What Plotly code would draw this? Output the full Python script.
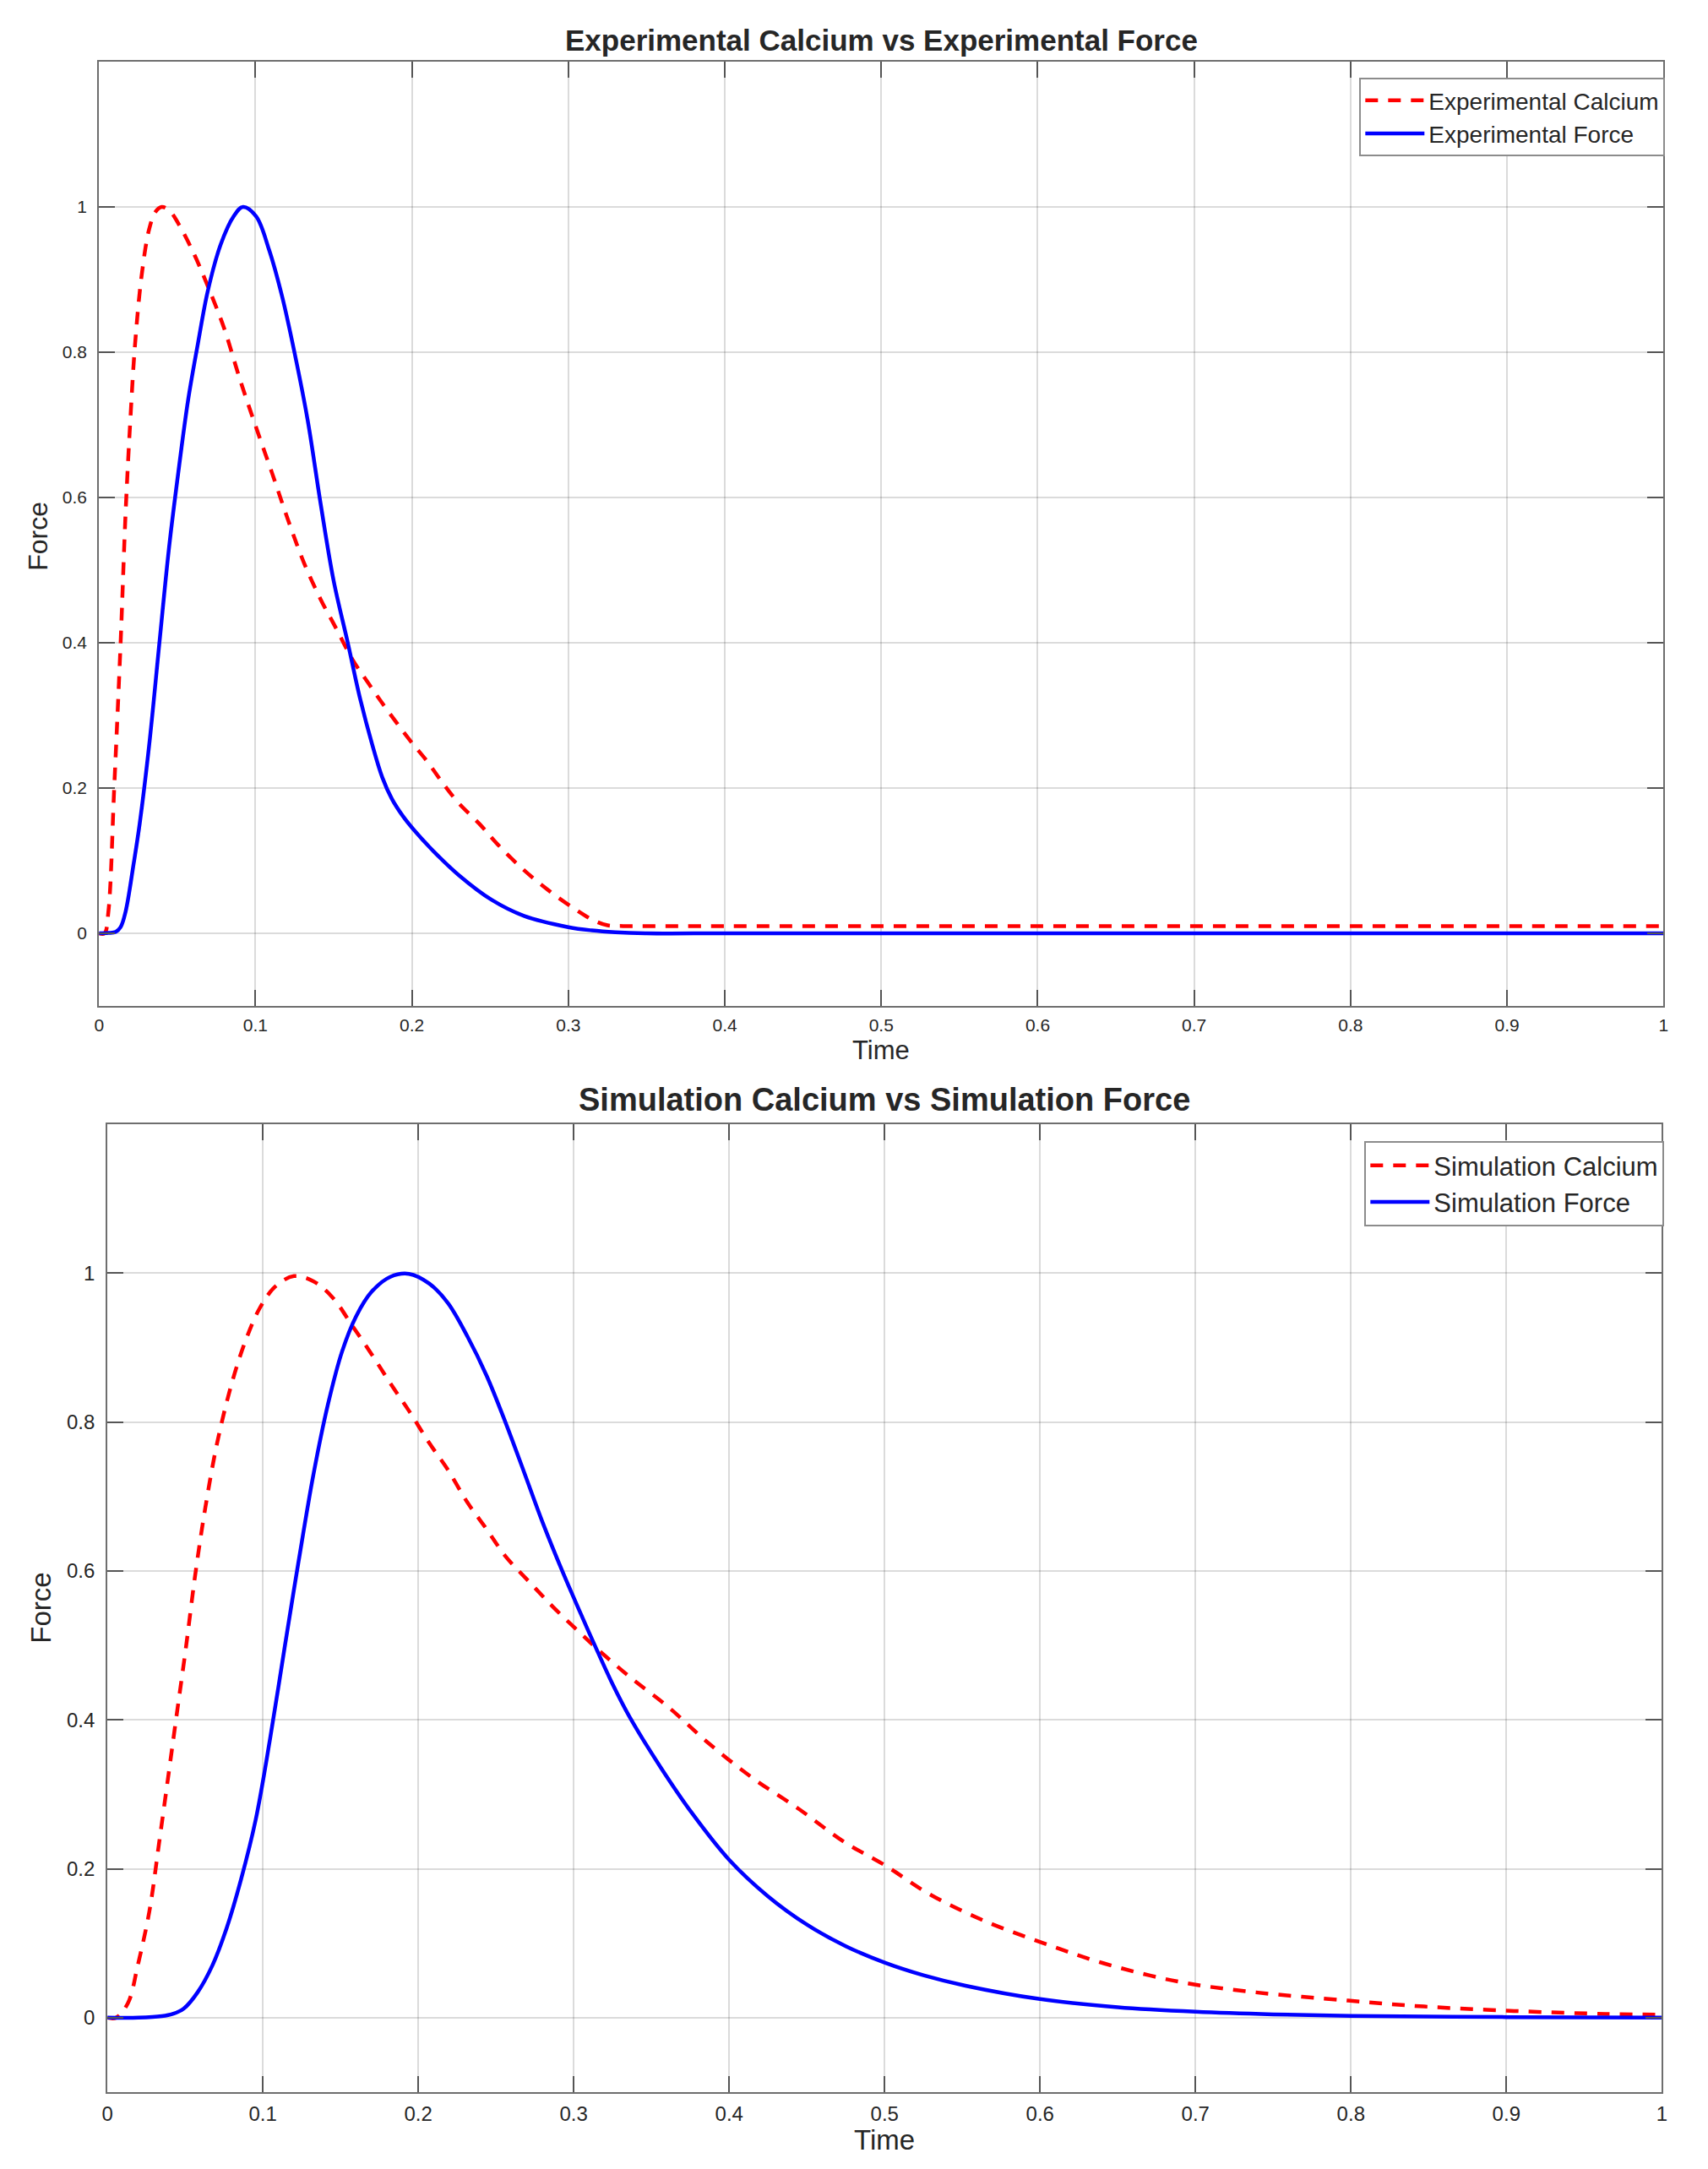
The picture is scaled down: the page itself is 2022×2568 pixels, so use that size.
import plotly.graph_objects as go

# ---------------- data ----------------
exp_ca_t = [0, 0.0035, 0.006, 0.0097, 0.0138, 0.017, 0.020, 0.023, 0.0272, 0.032, 0.036,
            0.040, 0.045, 0.051, 0.061, 0.0695, 0.0798, 0.090, 0.100, 0.1107, 0.121,
            0.131, 0.1416, 0.152, 0.162, 0.1726, 0.183, 0.199, 0.21, 0.22, 0.23, 0.243,
            0.255, 0.2716, 0.288, 0.3045, 0.316, 0.325, 0.335, 0.35, 0.4, 0.5, 0.6, 0.7,
            0.8, 0.9, 1.0]
exp_ca_v = [0, 0.0, 0.03, 0.2, 0.4, 0.58, 0.706, 0.81, 0.905, 0.969, 0.993,
            1.0, 0.995, 0.976, 0.934, 0.891, 0.834, 0.763, 0.699, 0.633, 0.568,
            0.51, 0.46, 0.418, 0.377, 0.343, 0.311, 0.265, 0.236, 0.206, 0.179, 0.151,
            0.122, 0.087, 0.058, 0.033, 0.018, 0.011, 0.01, 0.01, 0.01, 0.01, 0.01, 0.01,
            0.01, 0.01, 0.01]

exp_f_t = [0, 0.006, 0.0107, 0.0138, 0.017, 0.022, 0.026, 0.032, 0.0386, 0.0447, 0.051,
           0.057, 0.0633, 0.0695, 0.0777, 0.086, 0.092, 0.1004, 0.1087, 0.117, 0.125,
           0.1334, 0.1416, 0.150, 0.159, 0.167, 0.1746, 0.181, 0.1872, 0.194, 0.201,
           0.2138, 0.230, 0.251, 0.2716, 0.300, 0.315, 0.33, 0.35, 0.4, 0.5, 0.6, 0.7,
           0.8, 0.9, 1.0]
exp_f_v = [0, 0.0005, 0.002, 0.0085, 0.03, 0.094, 0.151, 0.258, 0.4, 0.53, 0.64,
           0.735, 0.813, 0.884, 0.948, 0.987, 1.0, 0.987, 0.941, 0.877, 0.799,
           0.706, 0.592, 0.485, 0.40, 0.322, 0.26, 0.215, 0.185, 0.162, 0.143,
           0.113, 0.08, 0.046, 0.024, 0.0085, 0.004, 0.0015, 0.0, 0, 0, 0, 0,
           0, 0, 0]

sim_ca_t = [0, 0.0056, 0.0133, 0.0195, 0.027, 0.0334, 0.0396, 0.0443, 0.0505, 0.0567,
            0.063, 0.0706, 0.080, 0.089, 0.098, 0.108, 0.120, 0.1325, 0.145, 0.157,
            0.170, 0.182, 0.194, 0.207, 0.219, 0.2316, 0.244, 0.256, 0.272, 0.287,
            0.303, 0.318, 0.337, 0.361, 0.386, 0.415, 0.445, 0.474, 0.5, 0.528, 0.562,
            0.601, 0.641, 0.69, 0.739, 0.798, 0.847, 0.905, 0.964, 1.0]
sim_ca_v = [0, 0, 0.02, 0.07, 0.143, 0.237, 0.331, 0.403, 0.497, 0.598,
            0.685, 0.772, 0.852, 0.91, 0.953, 0.982, 0.996, 0.989, 0.967, 0.931,
            0.891, 0.852, 0.815, 0.772, 0.736, 0.692, 0.656, 0.62, 0.584, 0.551,
            0.519, 0.49, 0.456, 0.417, 0.37, 0.322, 0.28, 0.236, 0.205, 0.167, 0.132,
            0.101, 0.073, 0.048, 0.034, 0.023, 0.015, 0.009, 0.005, 0.004]

sim_f_t = [0, 0.02, 0.035, 0.042, 0.049, 0.058, 0.0675, 0.0768, 0.086, 0.0954, 0.1046,
           0.114, 0.123, 0.1325, 0.1418, 0.151, 0.160, 0.170, 0.182, 0.194, 0.207,
           0.219, 0.2316, 0.244, 0.256, 0.268, 0.28, 0.293, 0.304, 0.314, 0.325,
           0.337, 0.356, 0.376, 0.4, 0.425, 0.45, 0.475, 0.5, 0.525, 0.552, 0.6, 0.65,
           0.7, 0.75, 0.8, 0.9, 1.0]
sim_f_v = [0, 0, 0.002, 0.005, 0.012, 0.034, 0.07, 0.121, 0.186, 0.266, 0.374,
           0.497, 0.613, 0.729, 0.823, 0.895, 0.942, 0.975, 0.995, 0.999, 0.986,
           0.96, 0.915, 0.862, 0.8, 0.733, 0.665, 0.598, 0.545, 0.498, 0.448,
           0.4, 0.336, 0.275, 0.212, 0.163, 0.125, 0.096, 0.074, 0.057, 0.043, 0.025,
           0.014, 0.008, 0.0045, 0.0025, 0.0008, 0.0002]

x_ticks = [0, 0.1, 0.2, 0.3, 0.4, 0.5, 0.6, 0.7, 0.8, 0.9, 1]
x_tick_labels = ["0", "0.1", "0.2", "0.3", "0.4", "0.5", "0.6", "0.7", "0.8", "0.9", "1"]
y_ticks = [0, 0.2, 0.4, 0.6, 0.8, 1]
y_tick_labels = ["0", "0.2", "0.4", "0.6", "0.8", "1"]

titles = ["Experimental Calcium vs Experimental Force", "Simulation Calcium vs Simulation Force"]
names_top = ["Experimental Calcium", "Experimental Force"]
names_bot = ["Simulation Calcium", "Simulation Force"]

# ---------------- figure ----------------
W, H = 2022, 2568
FONT = "Liberation Sans, Arial, Helvetica, sans-serif"
TXT = "#262626"
RED = "#ff0000"
BLUE = "#0000ff"

fig = go.Figure()

line_kw = dict(shape="spline", smoothing=1.0)
fig.add_trace(go.Scatter(x=exp_ca_t, y=exp_ca_v, mode="lines", name=names_top[0],
                         line=dict(color=RED, width=4.5, dash="15px,12px", **line_kw),
                         xaxis="x", yaxis="y", legend="legend"))
fig.add_trace(go.Scatter(x=exp_f_t, y=exp_f_v, mode="lines", name=names_top[1],
                         line=dict(color=BLUE, width=4.5, **line_kw),
                         xaxis="x", yaxis="y", legend="legend"))
fig.add_trace(go.Scatter(x=sim_ca_t, y=sim_ca_v, mode="lines", name=names_bot[0],
                         line=dict(color=RED, width=4.5, dash="15px,12px", **line_kw),
                         xaxis="x2", yaxis="y2", legend="legend2"))
fig.add_trace(go.Scatter(x=sim_f_t, y=sim_f_v, mode="lines", name=names_bot[1],
                         line=dict(color=BLUE, width=4.5, **line_kw),
                         xaxis="x2", yaxis="y2", legend="legend2"))

def ax(domain, tickvals, ticktext, rng, anchor, fsize, standoff):
    return dict(domain=domain, range=rng, tickmode="array", tickvals=tickvals,
                ticktext=ticktext, showgrid=True, gridcolor="rgba(0,0,0,0.14)",
                gridwidth=1.5, zeroline=False, showline=True, linecolor="#6e6e6e",
                linewidth=2, mirror="ticks", ticks="inside", ticklen=19, tickwidth=2,
                tickcolor="#555555", tickfont=dict(family=FONT, size=fsize, color=TXT),
                ticklabelstandoff=standoff, anchor=anchor, fixedrange=True)

top_x = [111 / W, 1976 / W]
top_y = [1 - 1191 / H, 1 - 73 / H]
bot_x = [121 / W, 1974 / W]
bot_y = [1 - 2477 / H, 1 - 1331 / H]

fig.update_layout(
    width=W, height=H, autosize=False,
    margin=dict(l=0, r=0, t=0, b=0),
    paper_bgcolor="white", plot_bgcolor="white",
    font=dict(family=FONT, color=TXT),
    xaxis=ax(top_x, x_ticks, x_tick_labels, [0, 1], "y", 21, 3),
    yaxis=ax(top_y, y_ticks, y_tick_labels, [-0.1, 1.2], "x", 21, 8),
    xaxis2=ax(bot_x, x_ticks, x_tick_labels, [0, 1], "y2", 24, 3),
    yaxis2=ax(bot_y, y_ticks, y_tick_labels, [-0.1, 1.2], "x2", 24, 8),
    legend=dict(x=1978 / W, y=1 - 92 / H, xanchor="right", yanchor="top",
                bgcolor="white", bordercolor="#8c8c8c", borderwidth=2,
                font=dict(family=FONT, size=28, color=TXT), tracegroupgap=0,
                itemwidth=70),
    legend2=dict(x=1977 / W, y=1 - 1351 / H, xanchor="right", yanchor="top",
                 bgcolor="white", bordercolor="#8c8c8c", borderwidth=2,
                 font=dict(family=FONT, size=31, color=TXT), tracegroupgap=0,
                 itemwidth=70),
    showlegend=True,
)

ann = [
    dict(text="<b>" + titles[0] + "</b>", x=1043.5 / W, y=1 - 47 / H, size=35),
    dict(text="<b>" + titles[1] + "</b>", x=1047.5 / W, y=1 - 1302 / H, size=38),
    dict(text="Time", x=1043.5 / W, y=1 - 1243 / H, size=31),
    dict(text="Time", x=1047.5 / W, y=1 - 2533 / H, size=33),
]
for a in ann:
    fig.add_annotation(text=a["text"], x=a["x"], y=a["y"], xref="paper", yref="paper",
                       xanchor="center", yanchor="middle", showarrow=False,
                       font=dict(family=FONT, size=a["size"], color=TXT))
fig.add_annotation(text="Force", x=38 / W, y=1 - 635 / H, xref="paper", yref="paper",
                   xanchor="center", yanchor="middle", showarrow=False, textangle=-90,
                   font=dict(family=FONT, size=32, color=TXT))
fig.add_annotation(text="Force", x=41 / W, y=1 - 1904 / H, xref="paper", yref="paper",
                   xanchor="center", yanchor="middle", showarrow=False, textangle=-90,
                   font=dict(family=FONT, size=33, color=TXT))

fig.write_html("out.html")
